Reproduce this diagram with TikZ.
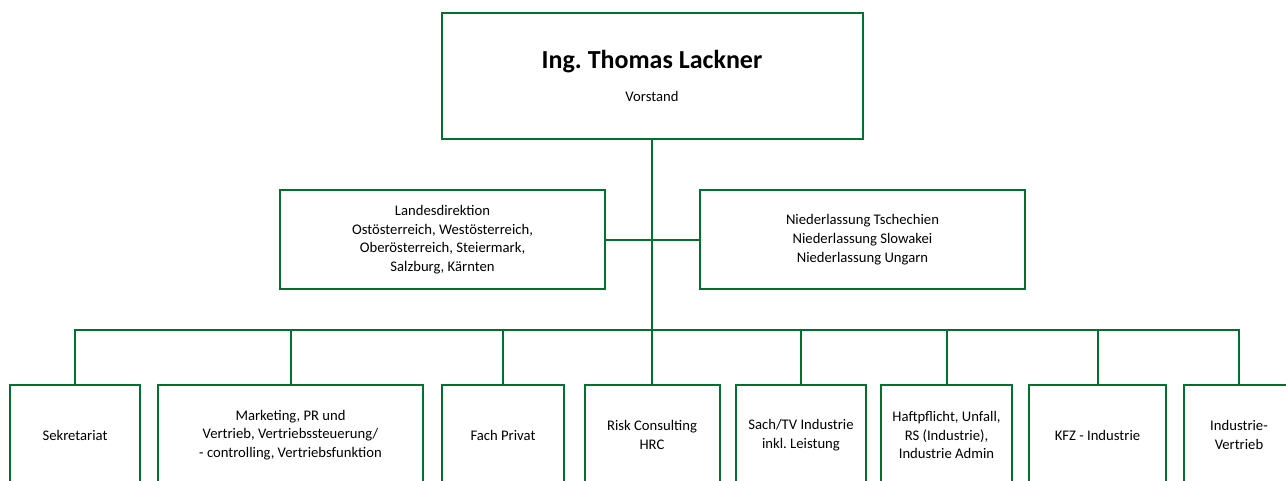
\documentclass[tikz,border=0pt]{standalone}
\usepackage{fontspec}
\setmainfont{Carlito}
\definecolor{orggreen}{RGB}{0,112,48}
\begin{document}
\begin{tikzpicture}[
			x=0.75pt, y=-0.75pt,
			line/.style={draw=orggreen, line width=1.5pt},
			box/.style={line, fill=white, align=center, inner sep=0pt,
					font=\fontsize{11}{14}\selectfont},
			topbox/.style={box, minimum width=315.75pt, minimum height=94.5pt},
			midbox/.style={box, minimum width=243.75pt, minimum height=74.25pt},
			unitbox/.style={box, anchor=north, minimum height=75pt}
		]
		\useasboundingbox (0,0) rectangle (1286,480);

		% Vorstand
		\node[topbox] (vorstand) at (652,76) {%
			{\fontsize{19.5}{22}\selectfont\bfseries Ing.\ Thomas Lackner}\\[11pt]
			Vorstand};

		% Stabsstellen
		\node[midbox] (ld) at (442.5,239.5) {Landesdirektion\\Ostösterreich, Westösterreich,\\Oberösterreich, Steiermark,\\Salzburg, Kärnten};
		\node[midbox] (nl) at (862.5,239.5) {Niederlassung Tschechien\\Niederlassung Slowakei\\Niederlassung Ungarn};

		% Bereiche
		\node[unitbox, minimum width=97.5pt] (sek) at (75,384) {Sekretariat};
		\node[unitbox, minimum width=198.75pt] (mkt) at (290.5,384) {Marketing, PR und\\Vertrieb, Vertriebssteuerung/\\- controlling, Vertriebsfunktion};
		\node[unitbox, minimum width=91.5pt] (fach) at (503,384) {Fach Privat};
		\node[unitbox, minimum width=101.25pt] (risk) at (652,384) {Risk Consulting\\HRC};
		\node[unitbox, minimum width=97.5pt] (sach) at (801,384) {Sach/TV Industrie\\inkl.\ Leistung};
		\node[unitbox, minimum width=98.25pt] (haft) at (946.5,384) {Haftpflicht, Unfall,\\RS (Industrie),\\Industrie Admin};
		\node[unitbox, minimum width=102.75pt] (kfz) at (1097.5,384) {KFZ - Industrie};
		\node[unitbox, minimum width=82.5pt] (ind) at (1239,384) {Industrie-\\Vertrieb};

		\coordinate (bus) at (652,330);

		\draw[line] (vorstand.south) -- (risk.north);
		\draw[line] (ld.east) -- (nl.west);
		\draw[line] (sek.north) |- (bus) -| (ind.north);
		\foreach \u in {mkt,fach,sach,haft,kfz}
			\draw[line] (\u.north) -- (\u.north |- bus);
	\end{tikzpicture}
\end{document}
